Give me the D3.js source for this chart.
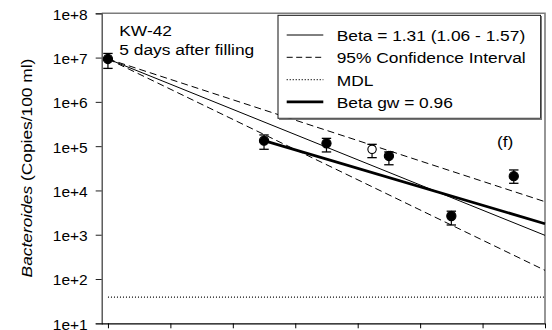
<!DOCTYPE html>
<html>
<head>
<meta charset="utf-8">
<script src="https://cdn.jsdelivr.net/npm/d3@7"></script>
<style>
  html, body { margin: 0; padding: 0; background: #fff; }
  svg { display: block; }
  text { font-family: "Liberation Sans", Arial, sans-serif; fill: #000; }
</style>
</head>
<body>
<svg id="chart" width="552" height="330"></svg>
<script>
// Measured concentrations (copies/100 ml) by day, mean with error range
const filledDays = [0, 2.5, 3.5, 4.5, 5.5, 6.5];
const filledMean = [9.3e6, 1.33e5, 1.16e5, 6.0e4, 2.65e3, 2.1e4];
const filledLow  = [5.7e6, 8.5e4, 7.4e4, 3.8e4, 1.66e3, 1.45e4];
const filledHigh = [1.24e7, 1.79e5, 1.5e5, 7.4e4, 3.4e3, 2.9e4];

// Sample shown as an open symbol
const openDays = [4.23];
const openMean = [8.5e4];
const openLow  = [5.5e4];
const openHigh = [1.1e5];

// Decay rates (per day) and detection limit
const beta = 1.31, betaLow = 1.06, betaHigh = 1.57;
const betaGw = 0.96;
const mdl = 39;

const yTicks = [1e1, 1e2, 1e3, 1e4, 1e5, 1e6, 1e7, 1e8];
const xTicks = [0, 1, 2, 3, 4, 5, 6, 7];

const legendLabels = ["Beta = 1.31 (1.06 - 1.57)", "95% Confidence Interval", "MDL", "Beta gw = 0.96"];

const svg = d3.select("#chart");
const plotLeft = 101.7, plotRight = 545, plotTop = 13.3, plotBottom = 323.3;

const x = d3.scaleLinear().domain([-0.1, 7]).range([plotLeft, plotRight]);
const y = d3.scaleLog().domain([1e1, 1e8]).range([plotBottom, plotTop]);

// plot frame (top and right)
svg.append("path")
  .attr("d", `M${plotLeft},${plotTop}H${plotRight}V${plotBottom}`)
  .attr("fill", "none").attr("stroke", "#7c7c7c").attr("stroke-width", 1.6);

// axes
const yAxis = svg.append("g").attr("transform", `translate(${plotLeft},0)`)
  .call(d3.axisLeft(y).tickValues(yTicks).tickSize(6).tickPadding(8)
    .tickFormat(d => "1e+" + Math.round(Math.log10(d))));
yAxis.select(".domain").attr("stroke", "#444").attr("stroke-width", 1.3);
yAxis.selectAll(".tick line").attr("stroke", "#222");
yAxis.selectAll(".tick text").attr("font-size", "15.5px")
  .attr("font-family", "Liberation Sans, Arial, sans-serif").attr("fill", "#000").attr("dy", "0.38em");

const xAxis = svg.append("g").attr("transform", `translate(0,${plotBottom})`)
  .call(d3.axisBottom(x).tickValues(xTicks).tickSize(5).tickFormat(""));
xAxis.select(".domain").attr("stroke", "#000").attr("stroke-width", 1.3)
  .attr("d", `M${plotLeft},0.5H${plotRight}`);
xAxis.selectAll(".tick line").attr("stroke", "#000");

// y title
const title = svg.append("text")
  .attr("transform", `translate(32,168) rotate(-90) scale(1.12,1)`)
  .attr("text-anchor", "middle").attr("font-size", "15.5px");
title.append("tspan").attr("font-style", "italic").text("Bacteroides");
title.append("tspan").text(" (Copies/100 ml)");

// model lines: log-linear decay
const line = d3.line().x(d => x(d[0])).y(d => y(d[1]));
const decay = (c0, t0, b) => [t0, 7].map(t => [t, c0 * Math.exp(-b * (t - t0))]);
const c0 = filledMean[0];

const plot = svg.append("g");
plot.append("path").attr("d", line([[0, mdl], [7, mdl]]))
  .attr("fill", "none").attr("stroke", "#000").attr("stroke-width", 1.2).attr("stroke-dasharray", "1,2");
[betaLow, betaHigh].forEach(b => {
  plot.append("path").attr("d", line(decay(c0, 0, b)))
    .attr("fill", "none").attr("stroke", "#000").attr("stroke-width", 1).attr("stroke-dasharray", "7,4");
});
plot.append("path").attr("d", line(decay(c0, 0, beta)))
  .attr("fill", "none").attr("stroke", "#000").attr("stroke-width", 1);
plot.append("path").attr("d", line(decay(filledMean[1], filledDays[1], betaGw)))
  .attr("fill", "none").attr("stroke", "#000").attr("stroke-width", 2.8);

// error bars and symbols
function drawPoints(days, mean, low, high, filled) {
  const g = plot.append("g");
  days.forEach((d, i) => {
    const cx = x(d);
    g.append("line").attr("x1", cx).attr("x2", cx).attr("y1", y(low[i])).attr("y2", y(high[i]))
      .attr("stroke", "#000").attr("stroke-width", 1.2);
    [low[i], high[i]].forEach(v => {
      g.append("line").attr("x1", cx - 4.7).attr("x2", cx + 4.7).attr("y1", y(v)).attr("y2", y(v))
        .attr("stroke", "#000").attr("stroke-width", 1.3);
    });
    g.append("circle").attr("cx", cx).attr("cy", y(mean[i])).attr("r", filled ? 4.6 : 4.2)
      .attr("fill", filled ? "#000" : "#fff").attr("stroke", "#000").attr("stroke-width", 1.1);
  });
}
drawPoints(filledDays, filledMean, filledLow, filledHigh, true);
drawPoints(openDays, openMean, openLow, openHigh, false);

// annotations
const note = (tx, ty, s) => svg.append("text")
  .attr("transform", `translate(${tx},${ty}) scale(1.12,1)`).attr("font-size", "15.5px").text(s);
note(119.3, 36, "KW-42");
note(119.3, 55.3, "5 days after filling");
note(497, 147, "(f)");

// legend
const lg = svg.append("g");
lg.append("rect").attr("x", 278).attr("y", 15.3).attr("width", 262.5).attr("height", 103)
  .attr("fill", "#fff").attr("stroke", "#111").attr("stroke-width", 1);
lg.append("path").attr("d", "M279,119.2H541.3V16")
  .attr("fill", "none").attr("stroke", "#777").attr("stroke-width", 1.4);
const styles = [
  { w: 1, dash: null },
  { w: 1, dash: "6,3.5" },
  { w: 1.2, dash: "1,2" },
  { w: 2.8, dash: null }
];
legendLabels.forEach((lab, i) => {
  const by = 41 + i * 22.3;
  lg.append("line").attr("x1", 286.7).attr("x2", 323.3).attr("y1", by - 6).attr("y2", by - 6)
    .attr("stroke", "#000").attr("stroke-width", styles[i].w)
    .attr("stroke-dasharray", styles[i].dash);
  lg.append("text").attr("transform", `translate(336.7,${by}) scale(1.12,1)`)
    .attr("font-size", "15.5px").text(lab);
});
</script>
</body>
</html>
